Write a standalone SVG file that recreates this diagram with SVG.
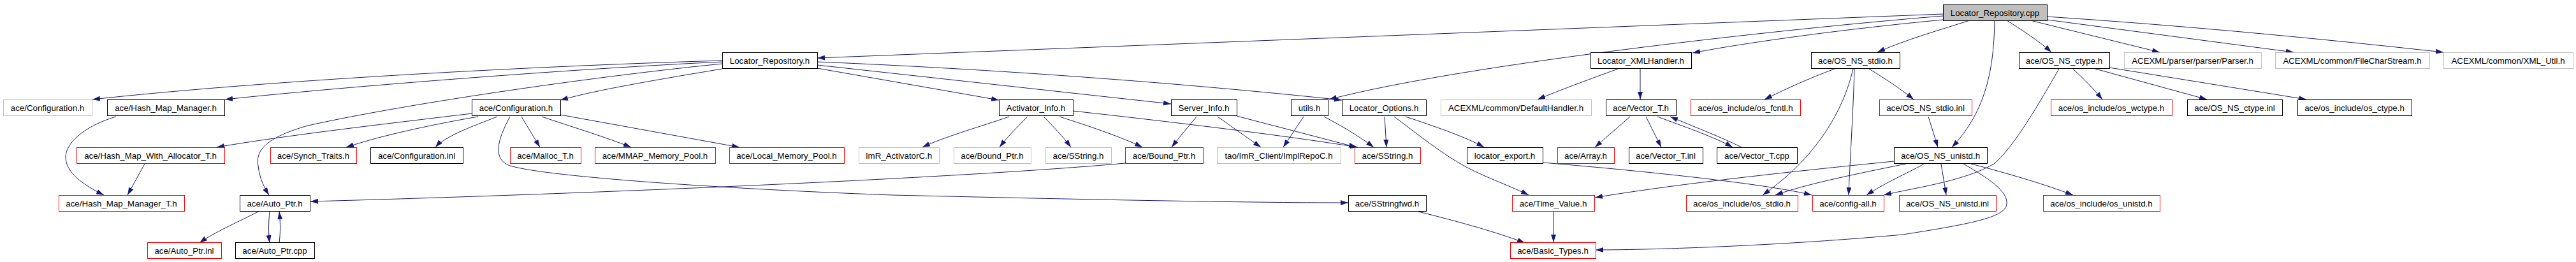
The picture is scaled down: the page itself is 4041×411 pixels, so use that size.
<svg xmlns="http://www.w3.org/2000/svg" width="4041" height="411" viewBox="0 0 4041 411">
<style>
rect{fill:#fff;stroke:#000;stroke-width:1}
.g rect{stroke:#bfbfbf}
.r rect{stroke:#f00}
.f rect{fill:#bfbfbf}
text{font-family:"Liberation Sans",Arial,sans-serif;font-size:13.3px;fill:#000;text-anchor:middle}
#edges path{fill:none;stroke:#191970;stroke-width:1;marker-end:url(#a)}
</style>
<defs>
<marker id="a" markerWidth="12" markerHeight="8" refX="12" refY="4" orient="auto" markerUnits="userSpaceOnUse"><path d="M0,0 L12,4 L0,8 z" fill="#191970"/></marker>
</defs>
<rect x="0" y="0" width="4041" height="411" style="stroke:none;fill:#fff"/>
<g id="edges">
<path d="M3048,22 L1282,91"/>
<path d="M3048,25 C2800,45 2300,100 2085,156"/>
<path d="M3048,31 C2900,45 2750,65 2655,83"/>
<path d="M3090,32 C3040,48 2990,62 2945,82"/>
<path d="M3129,32 C3128,120 3110,180 3062,231"/>
<path d="M3148,32 C3170,46 3200,65 3218,82"/>
<path d="M3185,32 L3388,82"/>
<path d="M3211,31 L3598,82"/>
<path d="M3211,26 Q3500,45 3833,82"/>
<path d="M1133,95 C800,105 400,128 145,156"/>
<path d="M1133,97 C900,108 550,135 353,156"/>
<path d="M1133,100 C950,118 650,160 483,197 C420,215 400,235 405,260 C407,280 415,295 422,306"/>
<path d="M1133,108 C1000,130 930,143 879,157"/>
<path d="M1282,107 L1567,157"/>
<path d="M1282,102 L1837,163"/>
<path d="M1282,97 C1600,110 1900,135 2105,157"/>
<path d="M740,178 C600,195 450,212 340,231"/>
<path d="M750,183 C680,195 600,212 543,231"/>
<path d="M780,183 C750,195 700,212 683,231"/>
<path d="M818,183 L847,231"/>
<path d="M850,183 C900,200 950,215 990,231"/>
<path d="M879,180 L1160,231"/>
<path d="M800,183 C780,220 772,250 800,260 C860,278 1150,297 1400,306 C1700,313 1950,318 2115,318"/>
<path d="M1765,256 C1500,280 900,305 487,316"/>
<path d="M405,332 C370,350 335,365 313,381"/>
<path d="M423,332 C421,350 421,365 423,381"/>
<path d="M438,381 C440,365 440,350 438,332"/>
<path d="M182,183 C140,195 105,220 103,245 C102,270 130,290 163,306"/>
<path d="M227,257 L200,306"/>
<path d="M1583,183 C1540,198 1480,215 1447,231"/>
<path d="M1612,183 C1595,200 1580,215 1568,231"/>
<path d="M1637,183 C1652,198 1668,215 1680,231"/>
<path d="M1662,183 C1700,195 1760,215 1792,231"/>
<path d="M1683,174 C1800,187 2000,210 2130,231"/>
<path d="M1940,182 L2128,231"/>
<path d="M1910,183 C1930,197 1955,215 1978,231"/>
<path d="M1877,183 C1865,198 1850,215 1838,231"/>
<path d="M2045,183 L2013,231"/>
<path d="M2077,183 C2100,195 2130,212 2155,231"/>
<path d="M2172,183 L2175,231"/>
<path d="M2205,183 C2250,198 2300,215 2328,231"/>
<path d="M2187,183 C2230,215 2260,240 2300,262 C2330,278 2370,292 2398,306"/>
<path d="M2538,108 C2500,122 2450,140 2412,156"/>
<path d="M2573,108 L2573,156"/>
<path d="M2557,183 C2540,198 2520,215 2502,231"/>
<path d="M2582,183 L2606,231"/>
<path d="M2600,183 C2640,198 2690,215 2718,231"/>
<path d="M2732,231 C2700,215 2660,200 2620,183"/>
<path d="M2878,108 C2840,122 2800,140 2768,156"/>
<path d="M2907,108 C2895,160 2860,240 2765,306"/>
<path d="M2909,108 C2907,180 2902,250 2900,306"/>
<path d="M2932,108 C2960,125 2985,142 3002,156"/>
<path d="M3025,183 L3040,231"/>
<path d="M2971,253 C2800,270 2620,290 2502,310"/>
<path d="M2990,257 C2900,275 2830,290 2785,306"/>
<path d="M3018,257 C3000,268 2960,285 2928,306"/>
<path d="M3045,257 L3053,306"/>
<path d="M3092,257 C3150,272 3210,290 3252,306"/>
<path d="M3080,257 C3120,280 3150,300 3148,320 C3146,340 3100,350 2985,368 C2800,385 2600,392 2503,392"/>
<path d="M3230,108 C3200,160 3160,230 3128,257 C3080,285 3000,295 2955,306"/>
<path d="M3252,108 C3270,125 3285,140 3298,156"/>
<path d="M3287,108 L3462,156"/>
<path d="M3309,106 L3618,156"/>
<path d="M2420,255 C2600,270 2780,290 2842,306"/>
<path d="M2437,332 L2437,380"/>
<path d="M2225,332 C2290,348 2350,365 2392,381"/>
</g>
<g id="n_cpp" class="f"><rect x="3048.5" y="7.5" width="163" height="25"/><text x="3129.5" y="24.5">Locator_Repository.cpp</text></g>
<g id="n_lrh"><rect x="1133.5" y="82.5" width="149" height="25"/><text x="1207.5" y="99.5">Locator_Repository.h</text></g>
<g id="n_xml"><rect x="2495.5" y="82.5" width="158" height="25"/><text x="2574" y="99.5">Locator_XMLHandler.h</text></g>
<g id="n_stdio"><rect x="2841.5" y="82.5" width="139" height="25"/><text x="2910.5" y="99.5">ace/OS_NS_stdio.h</text></g>
<g id="n_ctype"><rect x="3167.5" y="82.5" width="142" height="25"/><text x="3238" y="99.5">ace/OS_NS_ctype.h</text></g>
<g id="n_parser" class="g"><rect x="3332.5" y="82.5" width="215" height="25"/><text x="3439.5" y="99.5">ACEXML/parser/parser/Parser.h</text></g>
<g id="n_fcs" class="g"><rect x="3569.5" y="82.5" width="242" height="25"/><text x="3690" y="99.5">ACEXML/common/FileCharStream.h</text></g>
<g id="n_xmlutil" class="g"><rect x="3833.5" y="82.5" width="203" height="25"/><text x="3934.5" y="99.5">ACEXML/common/XML_Util.h</text></g>
<g id="n_cfg_g" class="g"><rect x="5.5" y="156.5" width="139" height="25"/><text x="74.5" y="173.5">ace/Configuration.h</text></g>
<g id="n_hmm"><rect x="168.5" y="156.5" width="184" height="25"/><text x="260" y="173.5">ace/Hash_Map_Manager.h</text></g>
<g id="n_cfg"><rect x="740.5" y="156.5" width="139" height="25"/><text x="809.5" y="173.5">ace/Configuration.h</text></g>
<g id="n_act"><rect x="1567.5" y="156.5" width="116" height="25"/><text x="1625" y="173.5">Activator_Info.h</text></g>
<g id="n_srv"><rect x="1837.5" y="156.5" width="103" height="25"/><text x="1888.5" y="173.5">Server_Info.h</text></g>
<g id="n_utils"><rect x="2025.5" y="156.5" width="58" height="25"/><text x="2054" y="173.5">utils.h</text></g>
<g id="n_opts"><rect x="2105.5" y="156.5" width="132" height="25"/><text x="2171" y="173.5">Locator_Options.h</text></g>
<g id="n_defh" class="g"><rect x="2260.5" y="156.5" width="236" height="25"/><text x="2378" y="173.5">ACEXML/common/DefaultHandler.h</text></g>
<g id="n_vec"><rect x="2519.5" y="156.5" width="110" height="25"/><text x="2574" y="173.5">ace/Vector_T.h</text></g>
<g id="n_fcntl" class="r"><rect x="2652.5" y="156.5" width="172" height="25"/><text x="2738" y="173.5">ace/os_include/os_fcntl.h</text></g>
<g id="n_stdioinl" class="r"><rect x="2948.5" y="156.5" width="145" height="25"/><text x="3020.5" y="173.5">ace/OS_NS_stdio.inl</text></g>
<g id="n_wctype" class="r"><rect x="3217.5" y="156.5" width="190" height="25"/><text x="3312" y="173.5">ace/os_include/os_wctype.h</text></g>
<g id="n_ctypeinl"><rect x="3431.5" y="156.5" width="149" height="25"/><text x="3505.5" y="173.5">ace/OS_NS_ctype.inl</text></g>
<g id="n_osctype"><rect x="3604.5" y="156.5" width="179" height="25"/><text x="3693.5" y="173.5">ace/os_include/os_ctype.h</text></g>
<g id="n_hmwa" class="r"><rect x="120.5" y="231.5" width="232" height="25"/><text x="236" y="248.5">ace/Hash_Map_With_Allocator_T.h</text></g>
<g id="n_synch" class="r"><rect x="424.5" y="231.5" width="135" height="25"/><text x="491.5" y="248.5">ace/Synch_Traits.h</text></g>
<g id="n_cfginl"><rect x="581.5" y="231.5" width="145" height="25"/><text x="653.5" y="248.5">ace/Configuration.inl</text></g>
<g id="n_malloc" class="r"><rect x="800.5" y="231.5" width="111" height="25"/><text x="855.5" y="248.5">ace/Malloc_T.h</text></g>
<g id="n_mmap" class="r"><rect x="933.5" y="231.5" width="189" height="25"/><text x="1027.5" y="248.5">ace/MMAP_Memory_Pool.h</text></g>
<g id="n_local" class="r"><rect x="1144.5" y="231.5" width="180" height="25"/><text x="1234" y="248.5">ace/Local_Memory_Pool.h</text></g>
<g id="n_actc" class="g"><rect x="1347.5" y="231.5" width="126" height="25"/><text x="1410" y="248.5">ImR_ActivatorC.h</text></g>
<g id="n_bp_g" class="g"><rect x="1496.5" y="231.5" width="121" height="25"/><text x="1556.5" y="248.5">ace/Bound_Ptr.h</text></g>
<g id="n_ss_g" class="g"><rect x="1640.5" y="231.5" width="103" height="25"/><text x="1691.5" y="248.5">ace/SString.h</text></g>
<g id="n_bp" class="r"><rect x="1765.5" y="231.5" width="122" height="25"/><text x="1826" y="248.5">ace/Bound_Ptr.h</text></g>
<g id="n_implrepo" class="g"><rect x="1909.5" y="231.5" width="194" height="25"/><text x="2006" y="248.5">tao/ImR_Client/ImplRepoC.h</text></g>
<g id="n_ss" class="r"><rect x="2125.5" y="231.5" width="103" height="25"/><text x="2176.5" y="248.5">ace/SString.h</text></g>
<g id="n_lexp"><rect x="2301.5" y="231.5" width="119" height="25"/><text x="2360.5" y="248.5">locator_export.h</text></g>
<g id="n_array" class="r"><rect x="2443.5" y="231.5" width="89" height="25"/><text x="2487.5" y="248.5">ace/Array.h</text></g>
<g id="n_vecinl"><rect x="2555.5" y="231.5" width="116" height="25"/><text x="2613" y="248.5">ace/Vector_T.inl</text></g>
<g id="n_veccpp"><rect x="2693.5" y="231.5" width="126" height="25"/><text x="2756" y="248.5">ace/Vector_T.cpp</text></g>
<g id="n_unistd"><rect x="2971.5" y="231.5" width="146" height="25"/><text x="3044" y="248.5">ace/OS_NS_unistd.h</text></g>
<g id="n_hmmt" class="r"><rect x="92.5" y="306.5" width="197" height="25"/><text x="190.5" y="323.5">ace/Hash_Map_Manager_T.h</text></g>
<g id="n_autoptr"><rect x="376.5" y="306.5" width="110" height="25"/><text x="431" y="323.5">ace/Auto_Ptr.h</text></g>
<g id="n_ssfwd"><rect x="2115.5" y="306.5" width="122" height="25"/><text x="2176" y="323.5">ace/SStringfwd.h</text></g>
<g id="n_tv" class="r"><rect x="2372.5" y="306.5" width="129" height="25"/><text x="2436.5" y="323.5">ace/Time_Value.h</text></g>
<g id="n_osstdio" class="r"><rect x="2645.5" y="306.5" width="175" height="25"/><text x="2732.5" y="323.5">ace/os_include/os_stdio.h</text></g>
<g id="n_cfgall" class="r"><rect x="2843.5" y="306.5" width="112" height="25"/><text x="2899" y="323.5">ace/config-all.h</text></g>
<g id="n_unistdinl" class="r"><rect x="2979.5" y="306.5" width="152" height="25"/><text x="3055" y="323.5">ace/OS_NS_unistd.inl</text></g>
<g id="n_osunistd" class="r"><rect x="3205.5" y="306.5" width="183" height="25"/><text x="3296.5" y="323.5">ace/os_include/os_unistd.h</text></g>
<g id="n_apinl" class="r"><rect x="231.5" y="380.5" width="116" height="25"/><text x="289" y="397.5">ace/Auto_Ptr.inl</text></g>
<g id="n_apcpp"><rect x="369.5" y="380.5" width="124" height="25"/><text x="431" y="397.5">ace/Auto_Ptr.cpp</text></g>
<g id="n_bt" class="r"><rect x="2369.5" y="380.5" width="134" height="25"/><text x="2436" y="397.5">ace/Basic_Types.h</text></g>
</svg>
